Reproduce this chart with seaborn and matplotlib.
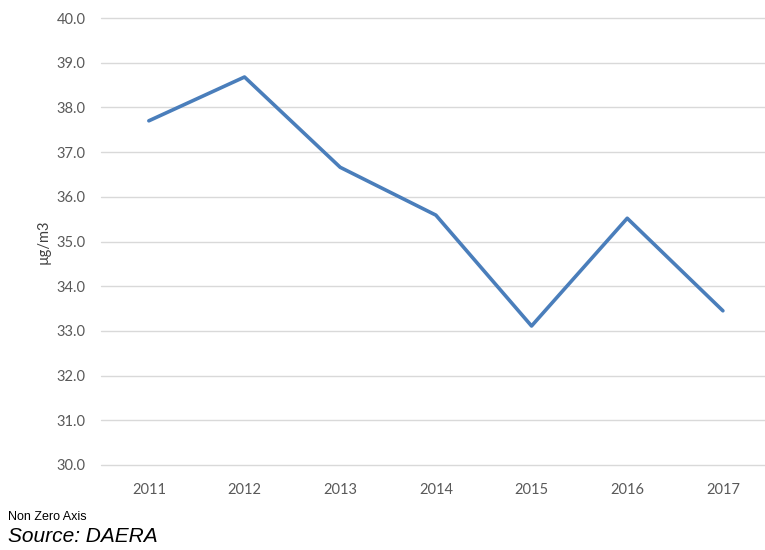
import matplotlib
matplotlib.use("Agg")
import matplotlib.pyplot as plt
import seaborn as sns
import pandas as pd

years = ["2011", "2012", "2013", "2014", "2015", "2016", "2017"]
values = [37.70, 38.68, 36.66, 35.59, 33.11, 35.52, 33.45]
yticks = [30.0, 31.0, 32.0, 33.0, 34.0, 35.0, 36.0, 37.0, 38.0, 39.0, 40.0]

sns.set_theme(style="white")
plt.rcParams['font.family'] = ['Lato', 'DejaVu Sans']

df = pd.DataFrame({"year": years, "value": values})
df["pos"] = range(len(years))

fig = plt.figure(figsize=(7.65, 5.5), dpi=100)
ax = fig.add_axes([101/765, 1-465/550, 1-101/765, (465-18)/550])
sns.lineplot(data=df, x="pos", y="value", ax=ax, color="#4a7ebb", linewidth=2.6)

ax.set_xlim(-0.5, 6.44)
ax.set_ylim(30, 40)
ax.set_yticks(yticks)
ax.set_yticklabels([f"{t:.1f}" for t in yticks])
ax.set_xticks(range(len(years)))
ax.set_xticklabels(years)
ax.grid(axis="y", color="#d9d9d9", linewidth=1)
for gl in ax.get_ygridlines():
    gl.set_clip_on(False)
ax.set_axisbelow(True)
for s in ax.spines.values():
    s.set_visible(False)
ax.tick_params(axis="both", length=0, labelsize=10.5, colors="#595959")
ax.tick_params(axis="x", pad=13)
ax.tick_params(axis="y", pad=11)
ax.set_xlabel("")
ax.set_ylabel("µg/m3", fontsize=10.5, color="#404040", labelpad=4)

fig.text(8/765, 1-517/550, "Non Zero Axis", fontsize=9, family="Liberation Sans", color="black", va="center")
fig.text(8/765, 1-537/550, "Source: DAERA", fontsize=15, family="Liberation Sans", style="italic", color="black", va="center")

fig.savefig("out.png", dpi=100)
